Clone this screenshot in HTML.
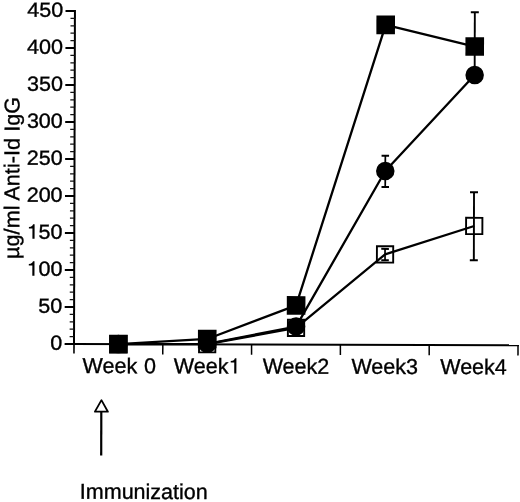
<!DOCTYPE html>
<html><head><meta charset="utf-8"><style>
html,body{margin:0;padding:0;background:#fff;width:520px;height:502px;overflow:hidden}
svg{display:block;font-family:"Liberation Sans",sans-serif;filter:grayscale(1)}
text{stroke:#000;stroke-width:0.35px}
path{stroke:#000;stroke-width:0.35px}
.ph{fill-opacity:0;stroke:none}
</style></head><body>
<svg width="520" height="502" viewBox="0 0 520 502">
<rect width="520" height="502" fill="#fff"/>
<g transform="rotate(0.16 74.0 344.0)">
<line x1="74.0" y1="10.0" x2="74.0" y2="344.0" stroke="#000" stroke-width="2"/>
<line x1="74.0" y1="344.0" x2="74.0" y2="353.6" stroke="#000" stroke-width="1.6"/>
<line x1="64.6" y1="344.00" x2="74.0" y2="344.00" stroke="#000" stroke-width="2"/>
<line x1="69.6" y1="336.60" x2="74.0" y2="336.60" stroke="#111" stroke-width="1.3"/>
<line x1="69.6" y1="329.20" x2="74.0" y2="329.20" stroke="#111" stroke-width="1.3"/>
<line x1="69.6" y1="321.80" x2="74.0" y2="321.80" stroke="#111" stroke-width="1.3"/>
<line x1="69.6" y1="314.40" x2="74.0" y2="314.40" stroke="#111" stroke-width="1.3"/>
<line x1="64.6" y1="307.00" x2="74.0" y2="307.00" stroke="#000" stroke-width="2"/>
<line x1="69.6" y1="299.60" x2="74.0" y2="299.60" stroke="#111" stroke-width="1.3"/>
<line x1="69.6" y1="292.20" x2="74.0" y2="292.20" stroke="#111" stroke-width="1.3"/>
<line x1="69.6" y1="284.80" x2="74.0" y2="284.80" stroke="#111" stroke-width="1.3"/>
<line x1="69.6" y1="277.40" x2="74.0" y2="277.40" stroke="#111" stroke-width="1.3"/>
<line x1="64.6" y1="270.00" x2="74.0" y2="270.00" stroke="#000" stroke-width="2"/>
<line x1="69.6" y1="262.60" x2="74.0" y2="262.60" stroke="#111" stroke-width="1.3"/>
<line x1="69.6" y1="255.20" x2="74.0" y2="255.20" stroke="#111" stroke-width="1.3"/>
<line x1="69.6" y1="247.80" x2="74.0" y2="247.80" stroke="#111" stroke-width="1.3"/>
<line x1="69.6" y1="240.40" x2="74.0" y2="240.40" stroke="#111" stroke-width="1.3"/>
<line x1="64.6" y1="233.00" x2="74.0" y2="233.00" stroke="#000" stroke-width="2"/>
<line x1="69.6" y1="225.60" x2="74.0" y2="225.60" stroke="#111" stroke-width="1.3"/>
<line x1="69.6" y1="218.20" x2="74.0" y2="218.20" stroke="#111" stroke-width="1.3"/>
<line x1="69.6" y1="210.80" x2="74.0" y2="210.80" stroke="#111" stroke-width="1.3"/>
<line x1="69.6" y1="203.40" x2="74.0" y2="203.40" stroke="#111" stroke-width="1.3"/>
<line x1="64.6" y1="196.00" x2="74.0" y2="196.00" stroke="#000" stroke-width="2"/>
<line x1="69.6" y1="188.60" x2="74.0" y2="188.60" stroke="#111" stroke-width="1.3"/>
<line x1="69.6" y1="181.20" x2="74.0" y2="181.20" stroke="#111" stroke-width="1.3"/>
<line x1="69.6" y1="173.80" x2="74.0" y2="173.80" stroke="#111" stroke-width="1.3"/>
<line x1="69.6" y1="166.40" x2="74.0" y2="166.40" stroke="#111" stroke-width="1.3"/>
<line x1="64.6" y1="159.00" x2="74.0" y2="159.00" stroke="#000" stroke-width="2"/>
<line x1="69.6" y1="151.60" x2="74.0" y2="151.60" stroke="#111" stroke-width="1.3"/>
<line x1="69.6" y1="144.20" x2="74.0" y2="144.20" stroke="#111" stroke-width="1.3"/>
<line x1="69.6" y1="136.80" x2="74.0" y2="136.80" stroke="#111" stroke-width="1.3"/>
<line x1="69.6" y1="129.40" x2="74.0" y2="129.40" stroke="#111" stroke-width="1.3"/>
<line x1="64.6" y1="122.00" x2="74.0" y2="122.00" stroke="#000" stroke-width="2"/>
<line x1="69.6" y1="114.60" x2="74.0" y2="114.60" stroke="#111" stroke-width="1.3"/>
<line x1="69.6" y1="107.20" x2="74.0" y2="107.20" stroke="#111" stroke-width="1.3"/>
<line x1="69.6" y1="99.80" x2="74.0" y2="99.80" stroke="#111" stroke-width="1.3"/>
<line x1="69.6" y1="92.40" x2="74.0" y2="92.40" stroke="#111" stroke-width="1.3"/>
<line x1="64.6" y1="85.00" x2="74.0" y2="85.00" stroke="#000" stroke-width="2"/>
<line x1="69.6" y1="77.60" x2="74.0" y2="77.60" stroke="#111" stroke-width="1.3"/>
<line x1="69.6" y1="70.20" x2="74.0" y2="70.20" stroke="#111" stroke-width="1.3"/>
<line x1="69.6" y1="62.80" x2="74.0" y2="62.80" stroke="#111" stroke-width="1.3"/>
<line x1="69.6" y1="55.40" x2="74.0" y2="55.40" stroke="#111" stroke-width="1.3"/>
<line x1="64.6" y1="48.00" x2="74.0" y2="48.00" stroke="#000" stroke-width="2"/>
<line x1="69.6" y1="40.60" x2="74.0" y2="40.60" stroke="#111" stroke-width="1.3"/>
<line x1="69.6" y1="33.20" x2="74.0" y2="33.20" stroke="#111" stroke-width="1.3"/>
<line x1="69.6" y1="25.80" x2="74.0" y2="25.80" stroke="#111" stroke-width="1.3"/>
<line x1="69.6" y1="18.40" x2="74.0" y2="18.40" stroke="#111" stroke-width="1.3"/>
<line x1="64.6" y1="11.00" x2="74.0" y2="11.00" stroke="#000" stroke-width="2"/>
<g transform="translate(62.2 0) scale(1.05 1) translate(-62.2 0)"><text x="62.2" y="349.90" text-anchor="end" font-size="20.5">0</text></g>
<g transform="translate(62.2 0) scale(1.05 1) translate(-62.2 0)"><text x="62.2" y="312.90" text-anchor="end" font-size="20.5">50</text></g>
<g transform="translate(62.2 0) scale(1.05 1) translate(-62.2 0)"><text x="62.2" y="275.90" text-anchor="end" font-size="20.5"><tspan class="ph">1</tspan>00</text><path d="M370 0L370 712L300 712C281 638 233 588 106 578L106 505L270 505L270 0Z" transform="translate(28.02 275.90) scale(0.02050 -0.02050)"/></g>
<g transform="translate(62.2 0) scale(1.05 1) translate(-62.2 0)"><text x="62.2" y="238.90" text-anchor="end" font-size="20.5"><tspan class="ph">1</tspan>50</text><path d="M370 0L370 712L300 712C281 638 233 588 106 578L106 505L270 505L270 0Z" transform="translate(28.02 238.90) scale(0.02050 -0.02050)"/></g>
<g transform="translate(62.2 0) scale(1.05 1) translate(-62.2 0)"><text x="62.2" y="201.90" text-anchor="end" font-size="20.5">200</text></g>
<g transform="translate(62.2 0) scale(1.05 1) translate(-62.2 0)"><text x="62.2" y="164.90" text-anchor="end" font-size="20.5">250</text></g>
<g transform="translate(62.2 0) scale(1.05 1) translate(-62.2 0)"><text x="62.2" y="127.90" text-anchor="end" font-size="20.5">300</text></g>
<g transform="translate(62.2 0) scale(1.05 1) translate(-62.2 0)"><text x="62.2" y="90.90" text-anchor="end" font-size="20.5">350</text></g>
<g transform="translate(62.2 0) scale(1.05 1) translate(-62.2 0)"><text x="62.2" y="53.90" text-anchor="end" font-size="20.5">400</text></g>
<g transform="translate(62.2 0) scale(1.05 1) translate(-62.2 0)"><text x="62.2" y="16.90" text-anchor="end" font-size="20.5">450</text></g>
<line x1="73.0" y1="344.0" x2="519.0" y2="344.0" stroke="#000" stroke-width="2"/>
<line x1="162.80" y1="344.0" x2="162.80" y2="354.3" stroke="#000" stroke-width="1.5"/>
<line x1="251.60" y1="344.0" x2="251.60" y2="354.3" stroke="#000" stroke-width="1.5"/>
<line x1="340.40" y1="344.0" x2="340.40" y2="354.3" stroke="#000" stroke-width="1.5"/>
<line x1="429.20" y1="344.0" x2="429.20" y2="354.3" stroke="#000" stroke-width="1.5"/>
<line x1="518.00" y1="344.0" x2="518.00" y2="354.3" stroke="#000" stroke-width="1.5"/>
<text x="119.30" y="373.0" text-anchor="middle" font-size="21.5" word-spacing="0.8">Week 0</text>
<text x="207.20" y="373.0" text-anchor="middle" font-size="21.5">Week<tspan class="ph">1</tspan></text>
<path d="M370 0L370 712L300 712C281 638 233 588 106 578L106 505L270 505L270 0Z" transform="translate(228.50 373.00) scale(0.02150 -0.02150)"/>
<text x="296.00" y="373.0" text-anchor="middle" font-size="21.5">Week2</text>
<text x="384.80" y="373.0" text-anchor="middle" font-size="21.5">Week3</text>
<text x="473.60" y="373.0" text-anchor="middle" font-size="21.5">Week4</text>
<text transform="translate(18.84,178.05) rotate(-90)" text-anchor="middle" font-size="21.5" letter-spacing="0.09">µg/ml Anti-Id IgG</text>
<line x1="473.90000000000003" y1="11.2" x2="473.90000000000003" y2="79.6" stroke="#000" stroke-width="1.9"/><line x1="469.90000000000003" y1="11.2" x2="477.90000000000003" y2="11.2" stroke="#000" stroke-width="2"/><line x1="469.90000000000003" y1="79.6" x2="477.90000000000003" y2="79.6" stroke="#000" stroke-width="2"/>
<line x1="384.79999999999995" y1="154.9" x2="384.79999999999995" y2="186.1" stroke="#000" stroke-width="1.7"/><line x1="381.04999999999995" y1="154.9" x2="388.54999999999995" y2="154.9" stroke="#000" stroke-width="2"/><line x1="381.04999999999995" y1="186.1" x2="388.54999999999995" y2="186.1" stroke="#000" stroke-width="2"/>
<line x1="473.6" y1="191.1" x2="473.6" y2="259.1" stroke="#000" stroke-width="1.9"/><line x1="469.6" y1="191.1" x2="477.6" y2="191.1" stroke="#000" stroke-width="2"/><line x1="469.6" y1="259.1" x2="477.6" y2="259.1" stroke="#000" stroke-width="2"/>
<line x1="384.79999999999995" y1="248.0" x2="384.79999999999995" y2="259.4" stroke="#000" stroke-width="1.7"/><line x1="380.99999999999994" y1="248.0" x2="388.59999999999997" y2="248.0" stroke="#000" stroke-width="2"/><line x1="380.99999999999994" y1="259.4" x2="388.59999999999997" y2="259.4" stroke="#000" stroke-width="2"/>
<polyline points="118.40,344.00 207.20,343.85 296.00,327.20 384.80,253.57 473.90,224.86" fill="none" stroke="#000" stroke-width="2.3" stroke-linejoin="round"/>
<polyline points="118.40,344.00 207.20,343.48 296.00,325.94 384.80,170.17 473.90,73.97" fill="none" stroke="#000" stroke-width="2.3" stroke-linejoin="round"/>
<polyline points="118.40,344.00 207.20,338.60 296.00,304.78 384.80,24.02 473.90,45.41" fill="none" stroke="#000" stroke-width="2.3" stroke-linejoin="round"/>
<rect x="110.25" y="335.85" width="16.30" height="16.30" fill="none" stroke="#000" stroke-width="1.9"/>
<rect x="199.05" y="335.70" width="16.30" height="16.30" fill="none" stroke="#000" stroke-width="1.9"/>
<rect x="287.85" y="319.05" width="16.30" height="16.30" fill="none" stroke="#000" stroke-width="1.9"/>
<rect x="376.65" y="245.42" width="16.30" height="16.30" fill="none" stroke="#000" stroke-width="1.9"/>
<rect x="465.75" y="216.71" width="16.30" height="16.30" fill="none" stroke="#000" stroke-width="1.9"/>
<circle cx="118.40" cy="344.00" r="9.25" fill="#000"/>
<circle cx="207.20" cy="343.48" r="9.25" fill="#000"/>
<circle cx="296.00" cy="325.94" r="9.25" fill="#000"/>
<circle cx="384.80" cy="170.17" r="9.25" fill="#000"/>
<circle cx="473.90" cy="73.97" r="9.25" fill="#000"/>
<rect x="109.10" y="334.70" width="18.6" height="18.6" fill="#000"/>
<rect x="197.90" y="329.30" width="18.6" height="18.6" fill="#000"/>
<rect x="286.70" y="295.48" width="18.6" height="18.6" fill="#000"/>
<rect x="375.50" y="14.72" width="18.6" height="18.6" fill="#000"/>
<rect x="464.60" y="36.11" width="18.6" height="18.6" fill="#000"/>
<line x1="101.5" y1="411" x2="101.5" y2="455.4" stroke="#000" stroke-width="2.2"/>
<polygon points="101.6,400.1 95.1,411.6 108.1,411.6" fill="#fff" stroke="#000" stroke-width="1.8" stroke-linejoin="round"/>
<text x="80.3" y="498.7" font-size="21.5">Immunization</text>
</g>
</svg>
</body></html>
